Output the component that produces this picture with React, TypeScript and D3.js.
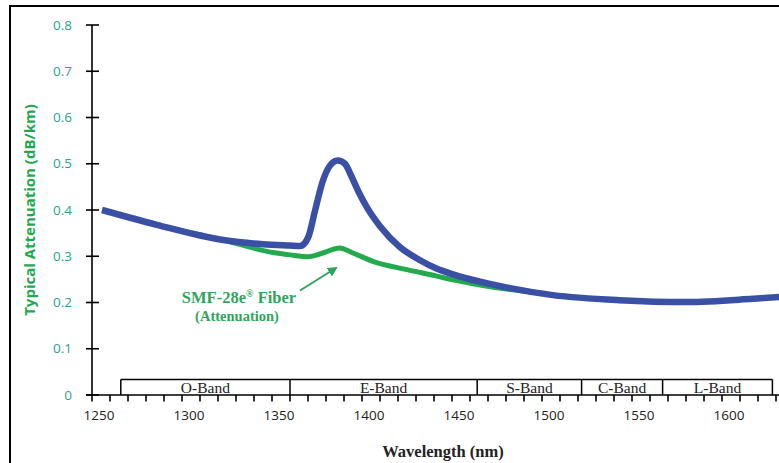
import React from "react";
import * as d3 from "d3";

const W = 779;
const H = 463;

// Blue curve (standard fiber with water peak): [wavelength nm, attenuation dB/km]
const blueWl = [1255.6, 1286, 1323, 1345, 1360, 1365.6, 1370, 1374, 1378, 1382.2, 1386.5, 1390.5, 1394, 1398, 1403, 1410, 1421, 1432, 1441.7, 1450.6, 1465.6, 1478.3, 1506, 1543, 1580.6, 1617, 1632, 1645];
const blueAtt = [0.4, 0.368, 0.335, 0.326, 0.323, 0.322, 0.34, 0.4, 0.46, 0.496, 0.507, 0.5, 0.474, 0.44, 0.404, 0.365, 0.32, 0.292, 0.273, 0.261, 0.245, 0.234, 0.216, 0.205, 0.201, 0.208, 0.212, 0.217];

// Green curve (SMF-28e fiber)
const greenWl = [1255.6, 1286, 1323, 1350.6, 1360, 1370, 1378.3, 1387.5, 1395, 1406, 1425, 1441.7, 1450.6, 1465.6, 1478.3, 1500];
const greenAtt = [0.4, 0.368, 0.335, 0.308, 0.303, 0.299, 0.307, 0.318, 0.307, 0.289, 0.271, 0.257, 0.249, 0.238, 0.23, 0.22];

const yTicks = [0, 0.1, 0.2, 0.3, 0.4, 0.5, 0.6, 0.7, 0.8];
const xLabelTicks = [1250, 1300, 1350, 1400, 1450, 1500, 1550, 1600];
const bandNames = ["O-Band", "E-Band", "S-Band", "C-Band", "L-Band"];
const bandEdges = [1266, 1360, 1464, 1522, 1567, 1628];

export default function App() {
  const x = d3.scaleLinear().domain([1250, 1630]).range([92, 776]);
  const y = d3.scaleLinear().domain([0, 0.8]).range([395, 25]);

  const line = d3
    .line<[number, number]>()
    .x((d) => x(d[0]))
    .y((d) => y(d[1]))
    .curve(d3.curveMonotoneX);

  const blue: [number, number][] = blueWl.map((w, i) => [w, blueAtt[i]]);
  const green: [number, number][] = greenWl.map((w, i) => [w, greenAtt[i]]);

  const minorTicks = d3.range(1250, 1631, 10);
  const x0 = x(1250);
  const y0 = y(0);
  const bandTop = 379.5;

  const sans = "'Open Sans', 'Noto Sans', sans-serif";
  const serif = "'Liberation Serif', 'DejaVu Serif', serif";

  return (
    <svg
      width={W}
      height={H}
      style={{ position: "absolute", left: 0, top: 0, background: "#fff" }}
    >
      <defs>
        <marker id="ah" viewBox="0 0 10 10" refX="8" refY="5" markerWidth="5" markerHeight="5" orient="auto">
          <path d="M0,0 L10,5 L0,10 z" fill="#2ea55a" />
        </marker>
      </defs>
      <rect x={0} y={0} width={W} height={H} fill="#fff" />
      {/* frame */}
      <line x1={10} y1={6} x2={W} y2={6} stroke="#000" strokeWidth={2} />
      <line x1={10} y1={5} x2={10} y2={H} stroke="#000" strokeWidth={2} />

      {/* y axis */}
      <line x1={x0} y1={y(0.8)} x2={x0} y2={y0} stroke="#000" strokeWidth={1.6} />
      {yTicks.map((t) => (
        <g key={t}>
          <line x1={x0 - 6} x2={x0 + 7} y1={y(t)} y2={y(t)} stroke="#000" strokeWidth={1.6} />
          <text
            x={72}
            y={y(t)}
            dy="0.35em"
            textAnchor="end"
            fontFamily={sans}
            fontSize={13.5}
            fill="#2aa38c"
          >
            {t === 0 ? "0" : t.toFixed(1)}
          </text>
        </g>
      ))}

      {/* x axis */}
      <line x1={x0 - 6} x2={W} y1={y0} y2={y0} stroke="#000" strokeWidth={1.6} />
      {minorTicks.map((t) => (
        <line key={t} x1={x(t)} x2={x(t)} y1={y0} y2={y0 + 6.5} stroke="#000" strokeWidth={1.6} />
      ))}
      {xLabelTicks.map((t) => (
        <text
          key={t}
          x={x(t) + 7}
          y={420}
          textAnchor="middle"
          fontFamily={sans}
          fontSize={13.5}
          fill="#222"
        >
          {t}
        </text>
      ))}

      {/* band boxes */}
      <line x1={x(bandEdges[0])} x2={x(bandEdges[bandEdges.length - 1])} y1={bandTop} y2={bandTop} stroke="#000" strokeWidth={1.5} />
      {bandEdges.map((e) => (
        <line key={e} x1={x(e)} x2={x(e)} y1={bandTop} y2={y0} stroke="#000" strokeWidth={1.5} />
      ))}
      {bandNames.map((n, i) => (
        <text
          key={n}
          x={(x(bandEdges[i]) + x(bandEdges[i + 1])) / 2}
          y={392.5}
          textAnchor="middle"
          fontFamily={serif}
          fontSize={15.5}
          fill="#222"
        >
          {n}
        </text>
      ))}

      {/* curves */}
      <path d={line(green) || ""} fill="none" stroke="#22aa4c" strokeWidth={5} strokeLinecap="butt" strokeLinejoin="round" />
      <path d={line(blue) || ""} fill="none" stroke="#3a50a4" strokeWidth={6.5} strokeLinecap="butt" strokeLinejoin="round" />

      {/* annotation */}
      <line x1={300} y1={290.5} x2={336} y2={268} stroke="#2ea55a" strokeWidth={2} markerEnd="url(#ah)" />
      <text x={239} y={303} textAnchor="middle" fontFamily={serif} fontWeight="bold" fontSize={16.5} fill="#2ea55a">
        SMF-28e<tspan fontSize={10} dy={-6}>®</tspan><tspan dy={6}> Fiber</tspan>
      </text>
      <text x={237} y={320.5} textAnchor="middle" fontFamily={serif} fontWeight="bold" fontSize={14.5} fill="#2ea55a">
        (Attenuation)
      </text>

      {/* axis titles */}
      <text
        transform={`translate(35, 210) rotate(-90)`}
        textAnchor="middle"
        fontFamily={sans}
        fontWeight="bold"
        fontSize={15}
        fill="#1fa84f"
      >
        Typical Attenuation (dB/km)
      </text>
      <text x={443} y={457} textAnchor="middle" fontFamily={serif} fontWeight="bold" fontSize={16.5} fill="#222">
        Wavelength (nm)
      </text>
    </svg>
  );
}
